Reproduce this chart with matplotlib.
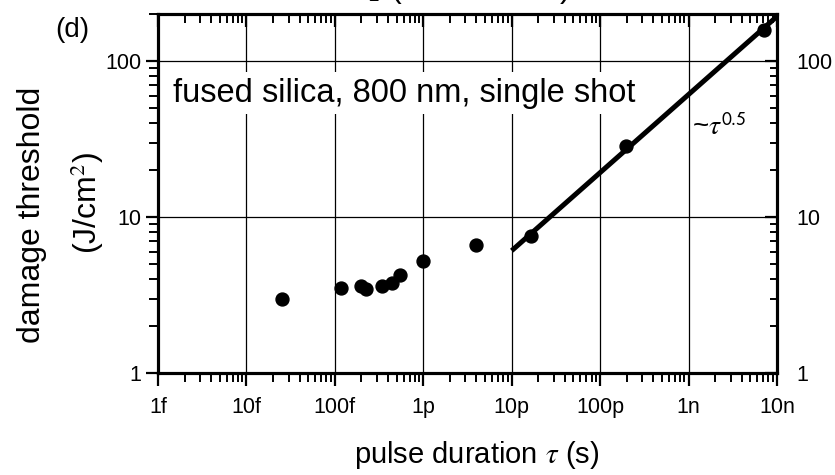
import matplotlib.pyplot as plt
from matplotlib.ticker import LogLocator, NullFormatter, FixedLocator, FixedFormatter

# fonts: Helvetica-like text, serif italic tau
plt.rcParams['font.family'] = 'Liberation Sans'
plt.rcParams['mathtext.fontset'] = 'stix'

# data (pulse duration in s, damage threshold in J/cm^2)
tau = [25e-15, 117e-15, 198e-15, 224e-15, 339e-15, 448e-15, 548e-15,
       1.0e-12, 3.93e-12, 16.4e-12, 195e-12, 7.2e-9]
fluence = [3.0, 3.51, 3.63, 3.49, 3.63, 3.76, 4.27,
           5.26, 6.66, 7.61, 28.5, 158]

# ~tau^0.5 guide line
fit_tau = [1e-11, 1e-8]
fit_fluence = [6.1, 193]

xticks = [1e-15, 1e-14, 1e-13, 1e-12, 1e-11, 1e-10, 1e-9, 1e-8]
xtick_labels = ['1f', '10f', '100f', '1p', '10p', '100p', '1n', '10n']
yticks = [1, 10, 100]
ytick_labels = ['1', '10', '100']

fig = plt.figure(figsize=(8.35, 4.75), dpi=100)
ax = fig.add_axes([0.1892, 0.2141, 0.7413, 0.7564])
ax.set_xscale('log')
ax.set_yscale('log')
ax.set_xlim(1e-15, 1e-8)
ax.set_ylim(1, 200)

ax.grid(True, which='major', color='black', linewidth=0.9)
ax.set_axisbelow(True)

ax.plot(fit_tau, fit_fluence, color='black', linewidth=3.6, solid_capstyle='butt', zorder=3)
ax.plot(tau, fluence, 'o', color='black', markersize=9.3, zorder=4)

# bottom / left axes: outward ticks
ax.xaxis.set_major_locator(FixedLocator(xticks))
ax.xaxis.set_major_formatter(FixedFormatter(xtick_labels))
ax.xaxis.set_minor_locator(LogLocator(base=10, subs=range(2, 10), numticks=20))
ax.xaxis.set_minor_formatter(NullFormatter())
ax.yaxis.set_major_locator(FixedLocator(yticks))
ax.yaxis.set_major_formatter(FixedFormatter(ytick_labels))
ax.yaxis.set_minor_locator(LogLocator(base=10, subs=range(2, 10), numticks=20))
ax.yaxis.set_minor_formatter(NullFormatter())
ax.tick_params(which='major', direction='out', length=9, width=1.6, labelsize=15.5,
               top=False, right=False)
ax.tick_params(axis='x', which='major', pad=8)
ax.tick_params(axis='y', which='major', pad=3)
ax.tick_params(which='minor', direction='out', length=6.5, width=1.4,
               top=False, right=False)
for s in ax.spines.values():
    s.set_linewidth(2.2)

# top axis: inward minor ticks, no labels
axt = ax.twiny()
axt.set_xscale('log')
axt.set_xlim(ax.get_xlim())
axt.xaxis.set_major_locator(FixedLocator(xticks))
axt.xaxis.set_minor_locator(LogLocator(base=10, subs=range(2, 10), numticks=20))
axt.xaxis.set_major_formatter(NullFormatter())
axt.xaxis.set_minor_formatter(NullFormatter())
axt.tick_params(which='major', direction='in', length=9, width=1.6)
axt.tick_params(which='minor', direction='in', length=6.5, width=1.4)

# right axis: inward ticks, labels on the right
axr = ax.twinx()
axr.set_yscale('log')
axr.set_ylim(ax.get_ylim())
axr.yaxis.set_major_locator(FixedLocator(yticks))
axr.yaxis.set_major_formatter(FixedFormatter(ytick_labels))
axr.yaxis.set_minor_locator(LogLocator(base=10, subs=range(2, 10), numticks=20))
axr.yaxis.set_minor_formatter(NullFormatter())
axr.tick_params(which='major', direction='in', length=9, width=1.6, labelsize=15.5, pad=14)
axr.tick_params(which='minor', direction='in', length=5, width=1.4)
for a in (axt, axr):
    for s in a.spines.values():
        s.set_linewidth(2.2)

ax.set_xlabel('pulse duration $\\tau$ (s)', fontsize=21)
ax.xaxis.set_label_coords(0.515, -0.183)
# two-line y label
fig.text(32 / 835, 0.547, 'damage threshold', fontsize=23, rotation=90,
         ha='center', va='center')
fig.text(87 / 835, 0.573, '(J/cm$^2$)', fontsize=23, rotation=90,
         ha='center', va='center')

ax.text(0.024, 0.756, 'fused silica, 800 nm, single shot', transform=ax.transAxes,
        fontsize=23.5, va='baseline', ha='left', zorder=5,
        bbox=dict(facecolor='white', edgecolor='none', pad=4))
ax.text(0.862, 0.663, '~$\\tau^{\\mathsf{0.5}}$', transform=ax.transAxes,
        fontsize=20, va='baseline', ha='left', zorder=5)

fig.text(0.066, 0.922, '(d)', fontsize=20)
# top title, clipped by the figure edge
fig.text(0.377, 1.006, 'SiO$_2$ (fused silica)', fontsize=23, va='baseline', ha='left')

fig.savefig('out.png', dpi=100)
